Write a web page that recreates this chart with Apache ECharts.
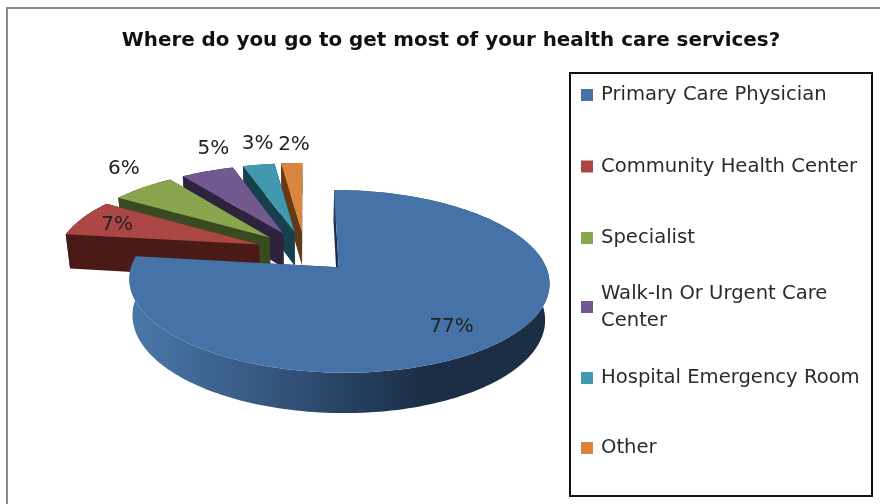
<!DOCTYPE html>
<html><head><meta charset="utf-8">
<style>html,body{margin:0;padding:0;background:#fff}#c{width:880px;height:504px}</style>
<script src="https://cdn.jsdelivr.net/npm/echarts@6/dist/echarts.min.js"></script>
</head><body><div id="c"></div>
<script>
const categories = ['Primary Care Physician','Community Health Center','Specialist','Walk-In Or Urgent Care\nCenter','Hospital Emergency Room','Other'];
const shares = [77,7,6,5,3,2];
const topColors = ['#4573A7','#AA4643','#89A54E','#71588F','#4198AF','#DB843D'];
const wallColors = ['#1B2E45','#4A1A17','#3A4A20','#2E223F','#16404C','#633A15'];
const labelNudges = [[113,59],[-142,-20],[-146,-69],[-70,-85],[-37,-88],[-8,-87]];
const legendTops = [81.5,153,224.5,273.25,364.5,434.5];

const FONT = '"DejaVu Sans", sans-serif';
const P = {ox:305, oy:251.4, w:201.8, h:84.3, p:0.15, explode:0.245, depth:35, shrink:0.982};
const total = shares.reduce((a,b)=>a+b,0);

function project(u,v,bottom){
  const d = 1 - P.p*v, s = bottom ? P.shrink : 1;
  return [P.ox + s*P.w*u/d, P.oy + s*P.h*v/d + (bottom ? P.depth/d : 0)];
}
function sliceItem(idx){
  return function(params, api){
    const value = api.value(0);
    let before = 0;
    for(let i=0;i<idx;i++) before += shares[i];
    const a0 = before/total*2*Math.PI, a1 = (before+value)/total*2*Math.PI, mid=(a0+a1)/2;
    const cu = P.explode*Math.sin(mid), cv = -P.explode*Math.cos(mid);
    const N = Math.max(6, Math.round((a1-a0)*40));
    const arcTop=[], arcBot=[];
    for(let k=0;k<=N;k++){
      const a=a0+(a1-a0)*k/N, u=cu+Math.sin(a), v=cv-Math.cos(a);
      arcTop.push(project(u,v,false)); arcBot.push(project(u,v,true));
    }
    const apexT=project(cu,cv,false), apexB=project(cu,cv,true);
    const wall = wallColors[idx];
    const arcFill = idx===0 ? new echarts.graphic.LinearGradient(0,0,1,0,[
      {offset:0,color:'#4A78AA'},{offset:0.3,color:'#375A83'},{offset:0.55,color:'#243E5D'},{offset:0.7,color:'#1B2E45'},{offset:1,color:'#1B2E45'}]) : wall;
    const poly=(pts,fill)=>({type:'polygon',shape:{points:pts},style:{fill:fill}});
    const children=[
      poly([apexT,arcTop[0],arcBot[0],apexB],wall),
      poly([apexT,arcTop[N],arcBot[N],apexB],wall),
      poly(arcTop.concat(arcBot.slice().reverse()),arcFill),
      poly([apexT].concat(arcTop),topColors[idx]),
      {type:'text',style:{text:value+'%',x:apexT[0]+labelNudges[idx][0],y:apexT[1]+labelNudges[idx][1],
        align:'center',verticalAlign:'middle',font:'20px '+FONT,fill:'#222'},z2:10}
    ];
    return {type:'group',children:children};
  };
}
const order = [5,4,3,2,1,0];
const series = order.map((i,n)=>({
  type:'custom', name:categories[i], coordinateSystem:'none', z:2+n,
  silent:true, animation:false,
  itemStyle:{color:topColors[i]},
  data:[[shares[i]]],
  renderItem:sliceItem(i)
}));
const legends = categories.map((c,i)=>({
  data:[{name:c,icon:'rect'}], left:581, top:legendTops[i], orient:'vertical', padding:0,
  itemWidth:12, itemHeight:12, itemGap:0, selectedMode:false, z:20,
  textStyle:{fontFamily:FONT,fontSize:19.6,color:'#2b2b2b',lineHeight:27,
     padding:c.indexOf('\n')>=0?[13.5,0,0,3]:[0,0,0,3]}
}));
const chart = echarts.init(document.getElementById('c'),null,{renderer:'canvas'});
chart.setOption({
  animation:false, backgroundColor:'#fff',
  title:{text:'Where do you go to get most of your health care services?',left:446,top:26,textAlign:'center',
    textStyle:{fontFamily:FONT,fontWeight:'bold',fontSize:19.9,color:'#111'}},
  legend:legends,
  graphic:[
    {type:'line',shape:{x1:6,y1:8,x2:880,y2:8},style:{stroke:'#8a8a8a',lineWidth:2},silent:true},
    {type:'line',shape:{x1:7,y1:7,x2:7,y2:504},style:{stroke:'#8a8a8a',lineWidth:2},silent:true},
    {type:'rect',shape:{x:570,y:73,width:302,height:423},style:{fill:'none',stroke:'#111',lineWidth:2},silent:true,z:1}
  ],
  series:series
});
</script></body></html>
